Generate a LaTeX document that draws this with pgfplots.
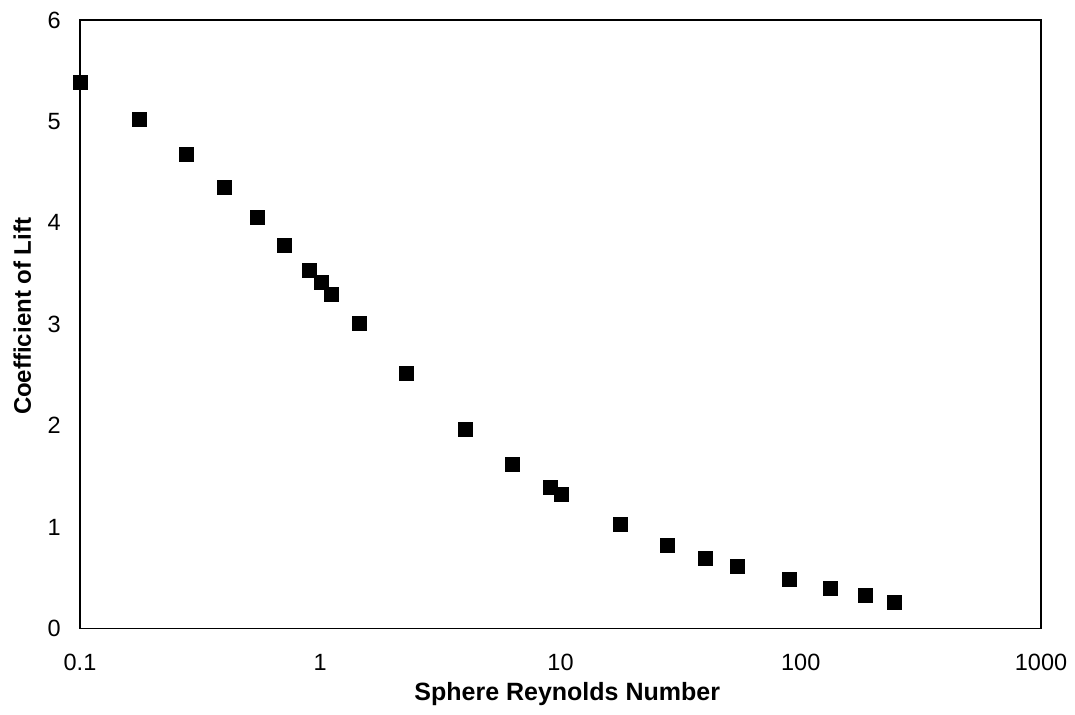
\documentclass[border=0pt]{standalone}
\usepackage{fontspec}
\setmainfont{Liberation Sans}
\usepackage{pgfplots}
\pgfplotsset{compat=1.18}
\begin{document}
\fontsize{21pt}{25pt}\selectfont
\begin{tikzpicture}
\useasboundingbox (-80pt,-85.5pt) rectangle (995pt,628.5pt);
\begin{axis}[
  at={(0pt,0pt)}, anchor=south west,
  scale only axis,
  width=961pt, height=608.5pt,
  xmode=log,
  xmin=0.1, xmax=1000,
  ymin=0, ymax=6,
  xtick={0.1,1,10,100,1000},
  xticklabels={0.1,1,10,100,1000},
  ytick={0,1,2,3,4,5,6},
  minor xtick={},
  major tick length=0pt, minor tick length=0pt,
  axis line style={line width=1.6pt},
  /pgf/number format/assume math mode=true,
  ticklabel style={font=\fontsize{23.5pt}{28pt}\selectfont},
  xticklabel style={anchor=base, yshift=-41.6pt},
  yticklabel style={xshift=-12pt},
  xlabel={\textbf{Sphere Reynolds Number}},
  ylabel={\textbf{Coefficient of Lift}},
  xlabel style={font=\fontsize{25pt}{30pt}\selectfont, at={(axis description cs:0.507,0)}, anchor=base, yshift=-71.5pt},
  ylabel style={font=\fontsize{24pt}{30pt}\selectfont, at={(axis description cs:-0.06,0.513)}, anchor=center},
  clip=false,
]
\addplot[only marks, mark=square*, mark size=7pt, mark options={fill=black, draw=black}] coordinates {
(0.1,5.39)
(0.1765,5.02)
(0.278,4.68)
(0.399,4.35)
(0.545,4.06)
(0.709,3.78)
(0.900,3.53)
(1.007,3.41)
(1.116,3.30)
(1.45,3.01)
(2.275,2.52)
(4.03,1.97)
(6.28,1.62)
(9.07,1.39)
(10.02,1.32)
(17.7,1.03)
(27.7,0.82)
(40.1,0.69)
(54.4,0.61)
(89.4,0.49)
(132.3,0.40)
(185.1,0.33)
(243.8,0.26)
};
\end{axis}
\end{tikzpicture}
\end{document}
